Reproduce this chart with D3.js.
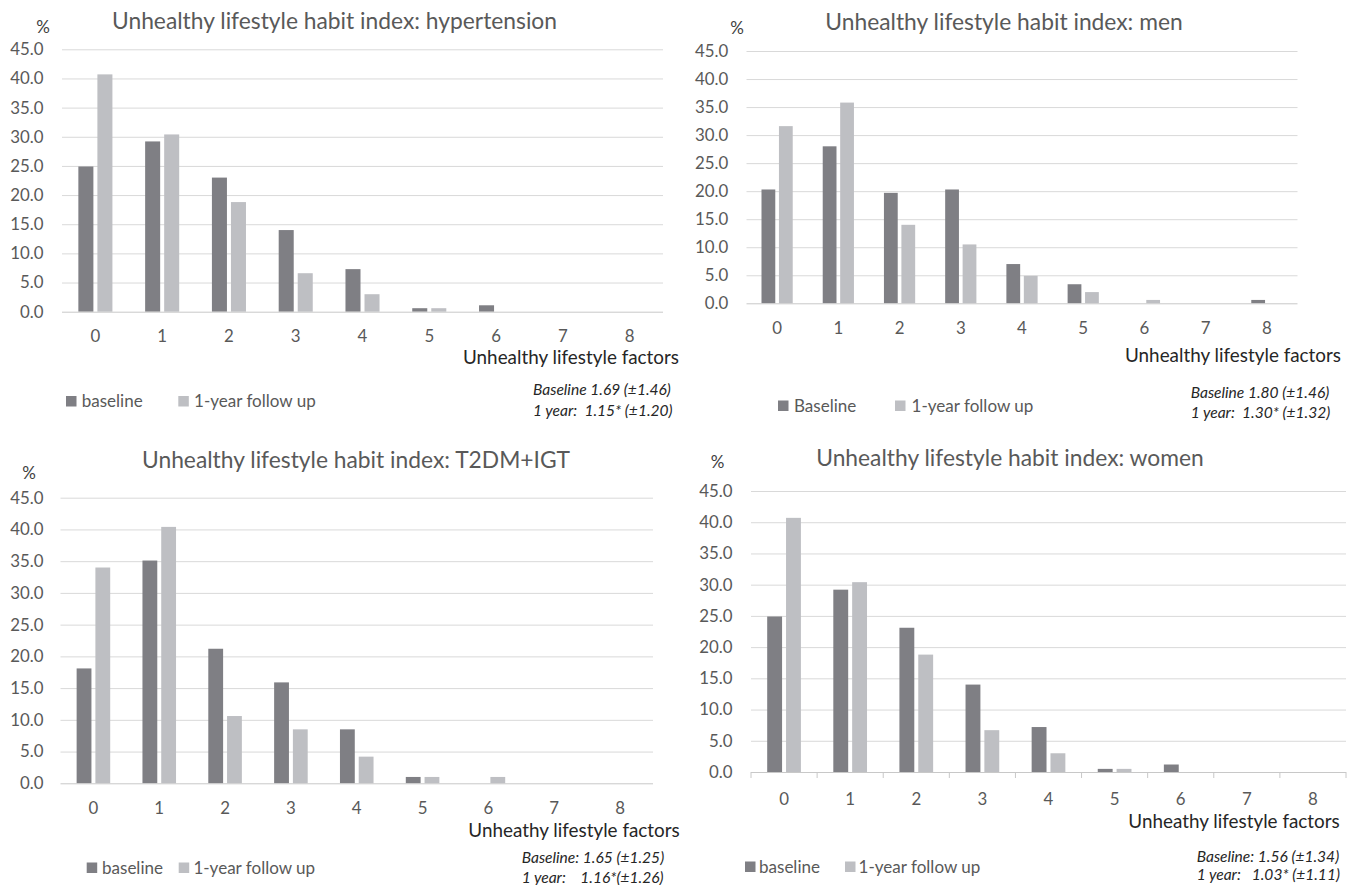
<!DOCTYPE html>
<html>
<head>
<meta charset="utf-8">
<script src="https://cdn.jsdelivr.net/npm/d3@7"></script>
<style>
  body { margin: 0; background: #fff; }
  svg { display: block; font-family: Lato, "Open Sans", sans-serif; }
</style>
</head>
<body>
<svg id="chart" width="1355" height="885"></svg>
<script>
// --- data -----------------------------------------------------------------
const factors = ['0', '1', '2', '3', '4', '5', '6', '7', '8'];
const yTicks = [0, 5, 10, 15, 20, 25, 30, 35, 40, 45];

const hypBaseline   = [24.9, 29.2, 23.0, 14.0, 7.3, 0.6, 1.1, 0, 0];
const hypFollowUp   = [40.7, 30.4, 18.8, 6.6, 3.0, 0.6, 0, 0, 0];
const menBaseline   = [20.3, 28.0, 19.7, 20.3, 7.0, 3.4, 0, 0, 0.6];
const menFollowUp   = [31.6, 35.8, 14.0, 10.5, 4.9, 2.0, 0.6, 0, 0];
const dmBaseline    = [18.1, 35.1, 21.2, 15.9, 8.5, 1.0, 0, 0, 0];
const dmFollowUp    = [34.0, 40.4, 10.6, 8.5, 4.2, 1.0, 1.0, 0, 0];
const womenBaseline = [24.9, 29.2, 23.1, 14.0, 7.2, 0.5, 1.2, 0, 0];
const womenFollowUp = [40.7, 30.4, 18.8, 6.7, 3.0, 0.5, 0, 0, 0];

const titles = [
  'Unhealthy lifestyle habit index: hypertension',
  'Unhealthy lifestyle habit index: men',
  'Unhealthy lifestyle habit index: T2DM+IGT',
  'Unhealthy lifestyle habit index: women'
];
const xTitles = ['Unhealthy lifestyle factors', 'Unhealthy lifestyle factors',
                 'Unheathy lifestyle factors', 'Unheathy lifestyle factors'];
const legendNames = [['baseline', '1-year follow up'], ['Baseline', '1-year follow up'],
                     ['baseline', '1-year follow up'], ['baseline', '1-year follow up']];
const notes = [
  ['Baseline 1.69 (\u00b11.46)', '1 year:  1.15* (\u00b11.20)'],
  ['Baseline 1.80 (\u00b11.46)', '1 year:  1.30* (\u00b11.32)'],
  ['Baseline: 1.65 (\u00b11.25)', '1 year:    1.16*(\u00b11.26)'],
  ['Baseline: 1.56 (\u00b11.34)', '1 year:   1.03* (\u00b11.11)']
];

// --- layout of the four panels ---------------------------------------------
const panels = [
  { base: hypBaseline, follow: hypFollowUp, left: 62, right: 663, top: 49.3, bottom: 311.7,
    labelRight: 43.5, titleX: 334.5, titleY: 21, pctX: 43, pctY: 27,
    xTitleX: 463, xTitleY: 357, tickDy: 24,
    legY: 401.5, leg: [66, 81.7, 178.3, 194], noteX: 533, noteY: [390, 411], ticks: false },
  { base: menBaseline, follow: menFollowUp, left: 746.5, right: 1297.5, top: 51, bottom: 303.3,
    labelRight: 728.3, titleX: 1004, titleY: 22, pctX: 737, pctY: 28.5,
    xTitleX: 1125, xTitleY: 355.5, tickDy: 24.7,
    legY: 406, leg: [778, 794, 895, 911.6], noteX: 1190.7, noteY: [393, 413], ticks: false },
  { base: dmBaseline, follow: dmFollowUp, left: 60.5, right: 653, top: 497.7, bottom: 783.3,
    labelRight: 43.5, titleX: 356, titleY: 460, pctX: 29, pctY: 473,
    xTitleX: 468.3, xTitleY: 830.5, tickDy: 25,
    legY: 868, leg: [86.7, 102, 178.7, 193.4], noteX: 521.7, noteY: [858, 878], ticks: false },
  { base: womenBaseline, follow: womenFollowUp, left: 751, right: 1346, top: 491, bottom: 772,
    labelRight: 732.5, titleX: 1010, titleY: 458.3, pctX: 717.5, pctY: 461.7,
    xTitleX: 1128.3, xTitleY: 821, tickDy: 26.6,
    legY: 867, leg: [745, 759, 845, 858.6], noteX: 1196.7, noteY: [856.7, 875], ticks: true }
];

const darkColor = '#7f7f84';
const lightColor = '#bebfc3';
const svg = d3.select('#chart');

// font size that gives a text the width it has in the picture
function fitSize(str, target, italic) {
  const t = svg.append('text')
    .style('font-size', '100px')
    .style('font-style', italic ? 'italic' : 'normal')
    .text(str);
  const w = t.node().getComputedTextLength();
  t.remove();
  return (100 * target / w).toFixed(2) + 'px';
}
const titleSize  = fitSize(titles[0], 445);
const tickSize   = fitSize('45.0', 33.3);
const xTitleSize = fitSize(xTitles[1], 216);
const legendSize = fitSize('baseline', 61);
const noteSize   = fitSize(notes[2][0], 142.6, true);

function drawPanel(p, i) {
  const g = svg.append('g');

  const x = d3.scaleBand().domain(factors).range([p.left, p.right]);
  const y = d3.scaleLinear().domain([0, 45]).range([p.bottom, p.top]);
  const bw = x.bandwidth();

  // gridlines
  g.append('g')
    .attr('transform', `translate(${p.left},0)`)
    .call(d3.axisLeft(y).tickValues(yTicks.slice(1)).tickSize(-(p.right - p.left)).tickFormat(''))
    .call(s => s.select('.domain').remove())
    .call(s => s.selectAll('line').attr('stroke', '#d9d9d9'));

  // y labels
  g.append('g')
    .attr('transform', `translate(${p.left},0)`)
    .call(d3.axisLeft(y).tickValues(yTicks).tickSize(0).tickPadding(p.left - p.labelRight)
      .tickFormat(d3.format('.1f')))
    .call(s => s.select('.domain').remove())
    .call(s => s.selectAll('text').attr('fill', '#595959').style('font-size', tickSize)
      .style('font-family', 'Lato, sans-serif'));

  // bars
  const rows = factors.map((f, k) => ({ f: f, b: p.base[k], v: p.follow[k] }));
  g.selectAll('rect.base').data(rows).join('rect')
    .attr('class', 'base')
    .attr('x', d => x(d.f) + bw * 0.245)
    .attr('width', bw * 0.225)
    .attr('y', d => y(d.b))
    .attr('height', d => y(0) - y(d.b))
    .attr('fill', darkColor);
  g.selectAll('rect.follow').data(rows).join('rect')
    .attr('class', 'follow')
    .attr('x', d => x(d.f) + bw * 0.53)
    .attr('width', bw * 0.225)
    .attr('y', d => y(d.v))
    .attr('height', d => y(0) - y(d.v))
    .attr('fill', lightColor);

  // x axis
  const xa = g.append('g')
    .attr('transform', `translate(0,${p.bottom})`)
    .call(d3.axisBottom(x).tickSize(0).tickPadding(p.tickDy - 6))
    .call(s => s.select('.domain').attr('stroke', '#c8c8c8').attr('d', `M${p.left},0.5H${p.right}`))
    .call(s => s.selectAll('text').attr('fill', '#595959').style('font-size', tickSize)
      .style('font-family', 'Lato, sans-serif'));
  if (p.ticks) {
    xa.selectAll('line.bound').data(factors.concat(['end'])).join('line')
      .attr('class', 'bound')
      .attr('x1', d => d === 'end' ? p.right : x(d))
      .attr('x2', d => d === 'end' ? p.right : x(d))
      .attr('y1', 0).attr('y2', 6)
      .attr('stroke', '#c8c8c8');
  }

  // titles
  g.append('text')
    .attr('x', p.titleX).attr('y', p.titleY).attr('dy', '0.35em')
    .attr('text-anchor', 'middle')
    .attr('fill', '#595959').style('font-size', titleSize)
    .text(titles[i]);
  g.append('text')
    .attr('x', p.pctX).attr('y', p.pctY).attr('dy', '0.35em')
    .attr('text-anchor', 'middle')
    .attr('fill', '#404040').style('font-size', '17px')
    .text('%');
  g.append('text')
    .attr('x', p.xTitleX).attr('y', p.xTitleY).attr('dy', '0.35em')
    .attr('fill', '#262626').style('font-size', xTitleSize)
    .text(xTitles[i]);

  // legend
  const legColors = [darkColor, lightColor];
  [0, 1].forEach(k => {
    g.append('rect')
      .attr('x', p.leg[k * 2]).attr('y', p.legY - 5.5)
      .attr('width', 10.5).attr('height', 10.5)
      .attr('fill', legColors[k]);
    g.append('text')
      .attr('x', p.leg[k * 2 + 1]).attr('y', p.legY).attr('dy', '0.35em')
      .attr('fill', '#595959').style('font-size', legendSize)
      .text(legendNames[i][k]);
  });

  // mean values note
  notes[i].forEach((t, k) => {
    g.append('text')
      .attr('x', p.noteX).attr('y', p.noteY[k]).attr('dy', '0.35em')
      .attr('fill', '#262626').style('font-size', noteSize).style('font-style', 'italic')
      .style('white-space', 'pre')
      .text(t);
  });
}

panels.forEach(drawPanel);
</script>
</body>
</html>
